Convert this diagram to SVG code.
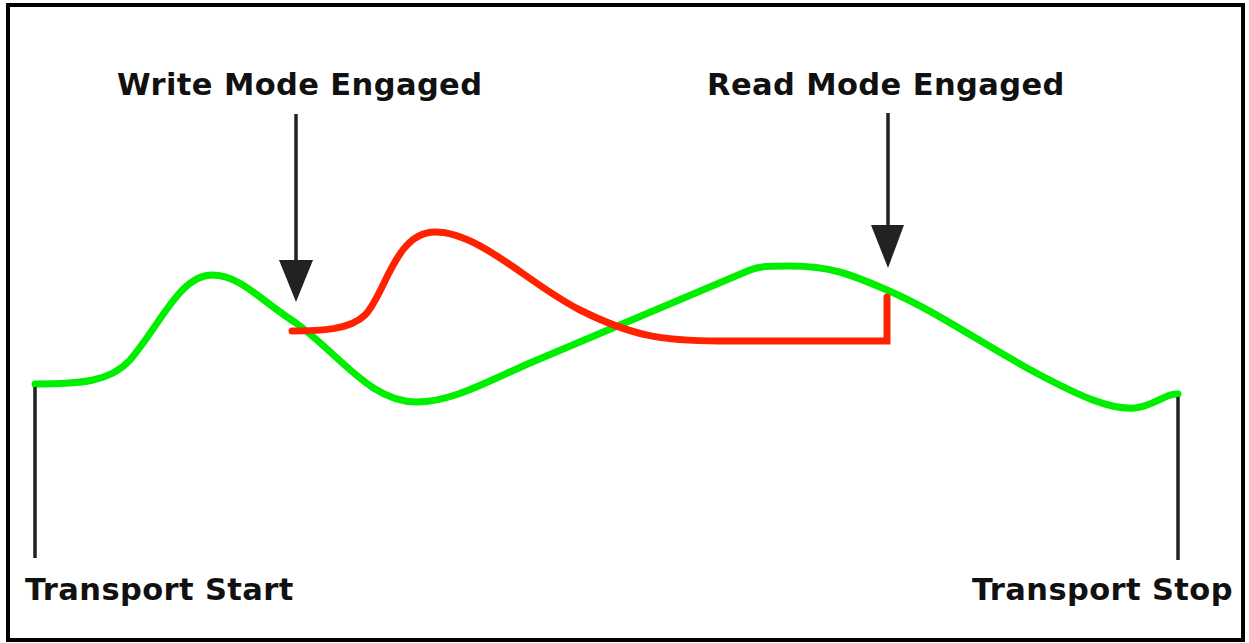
<svg xmlns="http://www.w3.org/2000/svg" width="1249" height="643" viewBox="0 0 1249 643">
<style>
.lbl{font-family:"DejaVu Sans",Verdana,sans-serif;font-weight:bold;font-size:30.5px;letter-spacing:0.4px;fill:#111}
.ptr{stroke:#222;stroke-width:3.5;fill:none}
.head{fill:#222}
.wave{fill:none;stroke-linecap:round;stroke-linejoin:miter;stroke-width:7}
</style>
<rect x="8" y="5" width="1235" height="635" fill="#fff" stroke="#000" stroke-width="4"/>
<g id="connectors">
<path class="wave" stroke="#00ee00" d="M 35 384 C 80 384, 110 382, 130 360 C 160 325, 180 275, 212 275 C 240 275, 260 300, 296 323 C 340 355, 370 402, 417 402 C 450 402, 480 385, 530 363 L 750 270 C 760 266, 770 266, 790 266 C 830 266, 850 274, 887 290 C 940 313, 980 343, 1040 375 C 1080 396, 1110 410, 1135 408 C 1155 406, 1165 393, 1178 394"/>
<path class="wave" stroke="#ff2200" stroke-linecap="butt" d="M 292 331 C 320 331, 350 330, 365 315 C 385 295, 395 232, 435 232 C 480 232, 530 285, 580 310 C 630 335, 660 341, 720 341 L 887 341 L 887 297"/>
<line class="ptr" x1="296" y1="114" x2="296" y2="262"/>
<polygon class="head" points="279,260 313,260 296,302"/>
<line class="ptr" x1="888" y1="113" x2="888" y2="227"/>
<polygon class="head" points="871,225 904,225 888,268"/>
<line class="ptr" x1="35" y1="387" x2="35" y2="558"/>
<line class="ptr" x1="1178" y1="397" x2="1178" y2="560"/>
</g>
<g id="write"><text class="lbl" x="117" y="95">Write Mode Engaged</text></g>
<g id="read"><text class="lbl" x="707" y="95">Read Mode Engaged</text></g>
<g id="start"><text class="lbl" x="25" y="600">Transport Start</text></g>
<g id="stop"><text class="lbl" x="972" y="600">Transport Stop</text></g>
</svg>
